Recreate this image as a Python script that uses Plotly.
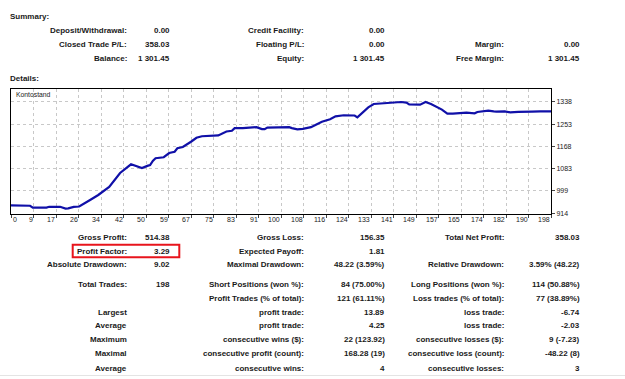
import plotly.graph_objects as go

# ---------------- data ----------------
trade_idx = [0, 7, 8, 13, 14, 18, 20, 21, 23, 25, 29, 32, 36, 40, 44, 46, 48, 50, 51, 52,
             53, 56, 57, 58, 60, 61, 63, 65, 66, 68, 70, 76, 77, 79, 81, 82, 85, 88, 90, 92,
             93, 94, 102, 103, 105, 107, 110, 112, 114, 117, 119, 122, 126, 127, 129, 131,
             133, 137, 140, 143, 145, 146, 150, 152, 154, 156, 158, 160, 162, 167, 169, 170,
             171, 173, 175, 177, 178, 181, 183, 186, 189, 191, 194, 197, 198]
balance = [943.42, 942, 935, 935, 938, 938, 931, 932, 937.5, 939, 964, 983, 1014, 1067, 1100,
           1094, 1086, 1094, 1097, 1113, 1123, 1127, 1134, 1143, 1148, 1161, 1166, 1178, 1186,
           1201, 1207, 1210, 1216, 1225, 1228, 1238, 1238, 1241.5, 1241.5, 1234, 1234, 1240,
           1241.5, 1238, 1233, 1235, 1241.5, 1252, 1262, 1272, 1283, 1287, 1286, 1279, 1298,
           1317, 1330, 1333.5, 1336, 1337.5, 1335, 1328.6, 1327.5, 1337.5, 1330, 1320, 1308.5,
           1293.4, 1293.4, 1297, 1297, 1294.5, 1299.4, 1303, 1304.7, 1302, 1301, 1302, 1298,
           1300, 1302, 1301, 1302, 1302, 1301.45]

x_tick_labels = ["0", "9", "17", "26", "34", "42", "50", "59", "67", "75", "83", "91", "100",
                 "108", "116", "124", "133", "141", "149", "157", "165", "174", "182", "190", "198"]
y_tick_values = [914, 999, 1083, 1168, 1253, 1338]
total_trades = 198

summary_rows = [
    ["Deposit/Withdrawal:", "0.00", "Credit Facility:", "0.00", "", ""],
    ["Closed Trade P/L:", "358.03", "Floating P/L:", "0.00", "Margin:", "0.00"],
    ["Balance:", "1 301.45", "Equity:", "1 301.45", "Free Margin:", "1 301.45"],
]
details_rows = [
    ["Gross Profit:", "514.38", "Gross Loss:", "156.35", "Total Net Profit:", "358.03"],
    ["Profit Factor:", "3.29", "Expected Payoff:", "1.81", "", ""],
    ["Absolute Drawdown:", "9.02", "Maximal Drawdown:", "48.22 (3.59%)", "Relative Drawdown:", "3.59% (48.22)"],
    ["Total Trades:", "198", "Short Positions (won %):", "84 (75.00%)", "Long Positions (won %):", "114 (50.88%)"],
    ["", "", "Profit Trades (% of total):", "121 (61.11%)", "Loss trades (% of total):", "77 (38.89%)"],
    ["Largest", "", "profit trade:", "13.89", "loss trade:", "-6.74"],
    ["Average", "", "profit trade:", "4.25", "loss trade:", "-2.03"],
    ["Maximum", "", "consecutive wins ($):", "22 (123.92)", "consecutive losses ($):", "9 (-7.23)"],
    ["Maximal", "", "consecutive profit (count):", "168.28 (19)", "consecutive loss (count):", "-48.22 (8)"],
    ["Average", "", "consecutive wins:", "4", "consecutive losses:", "3"],
]

# ---------------- layout helpers ----------------
W, H = 625, 379
def px(x):
    return x / W
def py(y):
    return 1 - y / H

FONT = "Liberation Sans, Arial, sans-serif"
TXT = "#1a1a1a"

col_right = [129.3, 172, 306, 387.3, 505.7, 581.7]
summary_y = [31, 44.7, 59]
details_y = [239, 253.3, 266.7, 286.7, 301, 315, 328.3, 342.7, 356.7, 371]

box_l, box_r, box_t, box_b = 11, 551, 90, 215.5
y_range = [911.3, 1386]

fig = go.Figure()
fig.add_trace(go.Scatter(
    x=trade_idx, y=balance, mode="lines",
    line=dict(color="#1010a8", width=2.2), hoverinfo="skip", showlegend=False))

annotations = []
def text(x, y, s, anchor="right", bold=True, size=8.0):
    annotations.append(dict(
        x=px(x), y=py(y), xref="paper", yref="paper", text=s, showarrow=False,
        xanchor=anchor, yanchor="middle",
        font=dict(family=FONT, size=size, color=TXT, weight="bold" if bold else "normal")))

text(8.3, 16.7, "Summary:", anchor="left")
text(8.3, 79, "Details:", anchor="left")
for row, yy in zip(summary_rows, summary_y):
    for s, xx in zip(row, col_right):
        if s:
            text(xx, yy, s)
for row, yy in zip(details_rows, details_y):
    for s, xx in zip(row, col_right):
        if s:
            text(xx, yy, s)

# chart title inside the box
text(14, 95.5, "Kontostand", anchor="left", bold=False, size=6.8)

# x tick labels (right aligned to their grid line, as in the original)
step = total_trades / (len(x_tick_labels) - 1)
x_tick_vals = [i * step for i in range(len(x_tick_labels))]
for i, (v, lab) in enumerate(zip(x_tick_vals, x_tick_labels)):
    annotations.append(dict(
        x=v, y=py(221.5), xref="x", yref="paper", text=lab, showarrow=False,
        xanchor="left" if i == 0 else "right", yanchor="middle",
        xshift=0 if i == 0 else 1,
        font=dict(family=FONT, size=7, color=TXT)))

shapes = [
    dict(type="rect", xref="paper", yref="paper",
         x0=px(72.7), x1=px(179.3), y0=py(259.3), y1=py(246.7),
         line=dict(color="#e8141c", width=2)),
    dict(type="line", xref="paper", yref="paper",
         x0=0, x1=1, y0=py(378.5), y1=py(378.5),
         line=dict(color="#e4e4e4", width=1)),
]

fig.update_layout(
    width=W, height=H, margin=dict(l=0, r=0, t=0, b=0),
    paper_bgcolor="white", plot_bgcolor="white",
    showlegend=False, annotations=annotations, shapes=shapes,
    xaxis=dict(domain=[px(box_l), px(box_r)], range=[0, total_trades],
               tickvals=x_tick_vals, showticklabels=False,
               ticks="outside", ticklen=3, tickcolor="#444",
               showgrid=True, gridcolor="#c8c8c8", griddash="3px,3px", gridwidth=1,
               showline=True, linecolor="black", linewidth=1, mirror=True,
               zeroline=False, fixedrange=True),
    yaxis=dict(domain=[py(box_b), py(box_t)], range=y_range, side="right",
               tickvals=y_tick_values, ticktext=[str(v) for v in y_tick_values],
               ticks="outside", ticklen=3, tickcolor="#444",
               tickfont=dict(family=FONT, size=7, color=TXT),
               showgrid=True, gridcolor="#c8c8c8", griddash="3px,3px", gridwidth=1,
               showline=True, linecolor="black", linewidth=1, mirror=True,
               zeroline=False, fixedrange=True),
)

fig.write_html("out.html")
